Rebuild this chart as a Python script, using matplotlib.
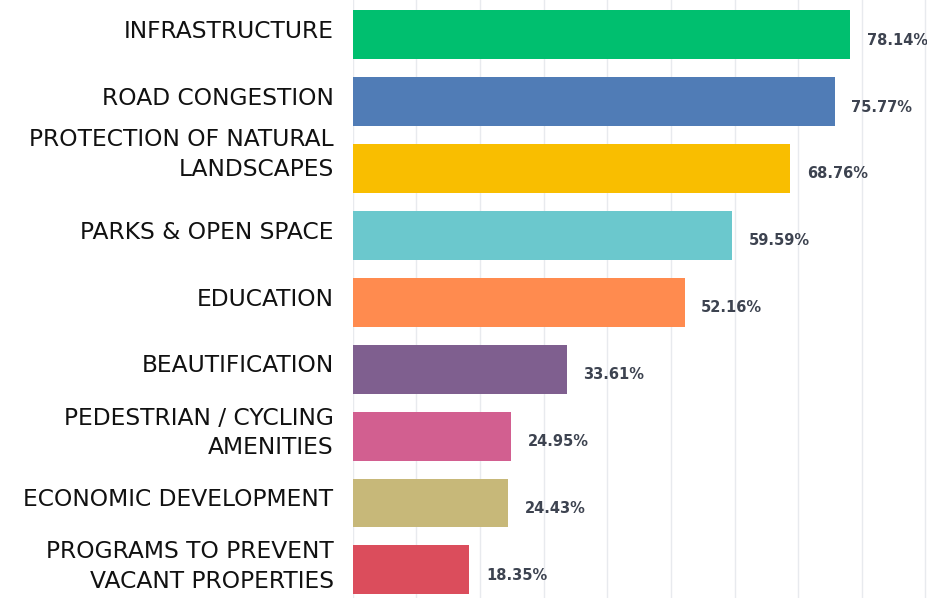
import numpy as np
import matplotlib
matplotlib.use("Agg")
import matplotlib.pyplot as plt

categories = ["INFRASTRUCTURE", "ROAD CONGESTION", "PROTECTION OF NATURAL\nLANDSCAPES",
              "PARKS & OPEN SPACE", "EDUCATION", "BEAUTIFICATION",
              "PEDESTRIAN / CYCLING\nAMENITIES", "ECONOMIC DEVELOPMENT",
              "PROGRAMS TO PREVENT\nVACANT PROPERTIES"]
values = [78.14, 75.77, 68.76, 59.59, 52.16, 33.61, 24.95, 24.43, 18.35]
colors = ["#00BF6F", "#507CB6", "#F9BE00", "#6BC8CD", "#FF8B4F",
          "#7F5F8F", "#D25F90", "#C7B879", "#DB4D5C"]

fig = plt.figure(figsize=(9.28, 5.98), dpi=100)
ax = fig.add_axes([0.380, 0.0, 0.620, 1.0])

y = np.arange(len(categories))
ax.barh(y, values, height=0.73, color=colors, zorder=2)

for yi, v in zip(y, values):
    ax.text(v + 2.6, yi + 0.08, f"{v:.2f}%", va="center", ha="left",
            fontsize=10.5, fontweight="bold", color="#3d4350", family="DejaVu Sans")

# category labels (the long one sits a bit higher, as in the original)
for i, lab in enumerate(categories):
    shift = -0.21 if lab.startswith("PROTECTION") else -0.05
    ax.text(-3.0, i + shift, lab, ha="right", va="center", fontsize=16.8,
            family="DejaVu Sans", color="#111111", linespacing=1.35)

ax.set_xlim(0, 90.4)
ax.set_ylim(8.42, -0.52)
ax.set_xticks(np.arange(0, 91, 10))
ax.set_yticks([])
ax.xaxis.grid(True, color="#e8eaee", linewidth=1, zorder=0)
ax.tick_params(axis="x", length=0, labelbottom=False)
for s in ax.spines.values():
    s.set_visible(False)

fig.savefig("out.png", dpi=100)
